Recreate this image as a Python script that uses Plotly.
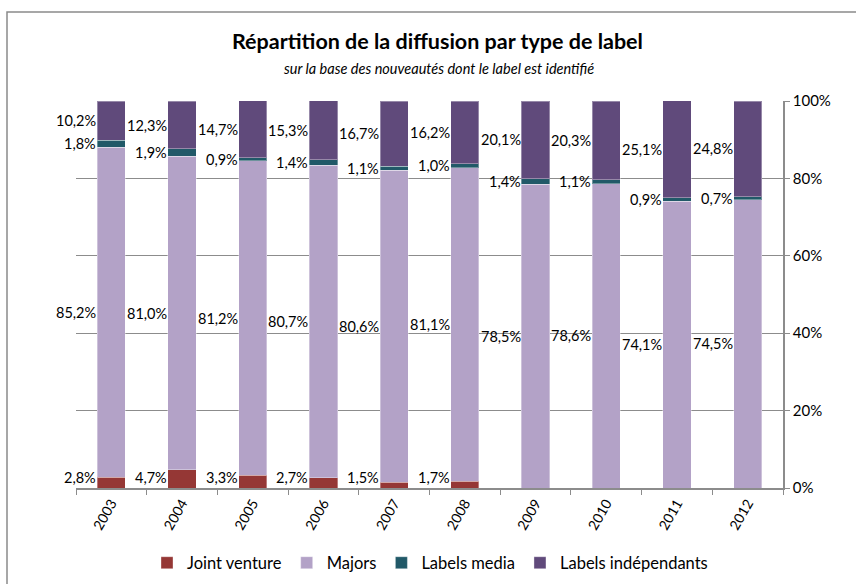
import plotly.graph_objects as go

# Répartition de la diffusion par type de label (en %)
annees = ['2003', '2004', '2005', '2006', '2007', '2008', '2009', '2010', '2011', '2012']
joint_venture = [2.8, 4.7, 3.3, 2.7, 1.5, 1.7, 0, 0, 0, 0]
majors = [85.2, 81.0, 81.2, 80.7, 80.6, 81.1, 78.5, 78.6, 74.1, 74.5]
labels_media = [1.8, 1.9, 0.9, 1.4, 1.1, 1.0, 1.4, 1.1, 0.9, 0.7]
labels_indep = [10.2, 12.3, 14.7, 15.3, 16.7, 16.2, 20.1, 20.3, 25.1, 24.8]

series = [
    ('Joint venture', joint_venture, '#953735'),
    ('Majors', majors, '#B3A2C7'),
    ('Labels media', labels_media, '#215968'),
    ('Labels indépendants', labels_indep, '#604A7B'),
]

FONT = 'Lato, Calibri, sans-serif'
GRID = '#8c8c8c'

W, H = 856, 584
ML, MR, MT, MB = 76, 73, 101, 96
PW, PH = W - ML - MR, H - MT - MB

fig = go.Figure()
for name, vals, color in series:
    fig.add_trace(go.Bar(
        name=name,
        x=annees,
        y=vals,
        marker=dict(color=color, line=dict(width=1, color='rgba(255,255,255,0.35)')),
    ))

# étiquettes à gauche de chaque barre, centrées sur le segment
# (comme Excel, on garde l'étiquette au-dessus de l'axe)
annotations = []
for i, an in enumerate(annees):
    base = 0
    for name, vals, color in series:
        v = vals[i]
        if v > 0:
            annotations.append(dict(
                x=i, y=max(base + v / 2, 2.8), xref='x', yref='y',
                text=f'{v:.1f}%'.replace('.', ','),
                showarrow=False, xanchor='right', yanchor='middle',
                xshift=-13, font=dict(family=FONT, size=14.5, color='#000'),
            ))
        base += v

annotations += [
    dict(text='<b>Répartition de la diffusion par type de label</b>',
         x=(437 - ML) / PW, y=(H - MB - 41) / PH, xref='paper', yref='paper',
         showarrow=False, xanchor='center', yanchor='middle',
         font=dict(family=FONT, size=21.5, color='#000')),
    dict(text='<i>sur la base des nouveautés dont le label est identifié</i>',
         x=(439 - ML) / PW, y=(H - MB - 68) / PH, xref='paper', yref='paper',
         showarrow=False, xanchor='center', yanchor='middle',
         font=dict(family=FONT, size=14.5, color='#000')),
]

# cadre du graphique (coupé à droite et en bas)
shapes = [dict(
    type='rect', xref='paper', yref='paper',
    x0=(7 - ML) / PW, x1=(W + 20 - ML) / PW,
    y0=(H - MB - (H + 20)) / PH, y1=(H - MB - 12) / PH,
    line=dict(color='#8a8a8a', width=1.5), fillcolor='rgba(0,0,0,0)',
)]

fig.update_layout(
    width=W, height=H,
    margin=dict(l=ML, r=MR, t=MT, b=MB, autoexpand=False),
    barmode='stack',
    bargap=0.6,
    paper_bgcolor='white',
    plot_bgcolor='white',
    font=dict(family=FONT, size=13, color='#000'),
    showlegend=True,
    legend=dict(
        orientation='h', x=(430 - ML) / PW, xanchor='center',
        y=-(563 - (H - MB)) / PH, yanchor='middle',
        font=dict(family=FONT, size=16.5), traceorder='normal',
        itemwidth=30,
    ),
    annotations=annotations,
    shapes=shapes,
    xaxis=dict(
        type='category',
        range=[-0.5, len(annees) - 0.5],
        showgrid=False,
        showline=True, linecolor=GRID, linewidth=1.5,
        ticks='outside', tickson='boundaries', ticklen=5, tickcolor=GRID,
        tickangle=-60,
        tickfont=dict(family=FONT, size=14),
        automargin=False,
    ),
    yaxis=dict(
        side='right',
        range=[0, 100],
        dtick=20,
        ticksuffix='%',
        showgrid=True, gridcolor=GRID, gridwidth=1,
        showline=True, linecolor=GRID, linewidth=1.5,
        ticks='outside', ticklen=5, tickcolor=GRID,
        tickfont=dict(family=FONT, size=15),
        zeroline=False,
        automargin=False,
    ),
)

fig.write_html('out.html', config={'displayModeBar': False},
               post_script="document.body.style.margin='0';")
